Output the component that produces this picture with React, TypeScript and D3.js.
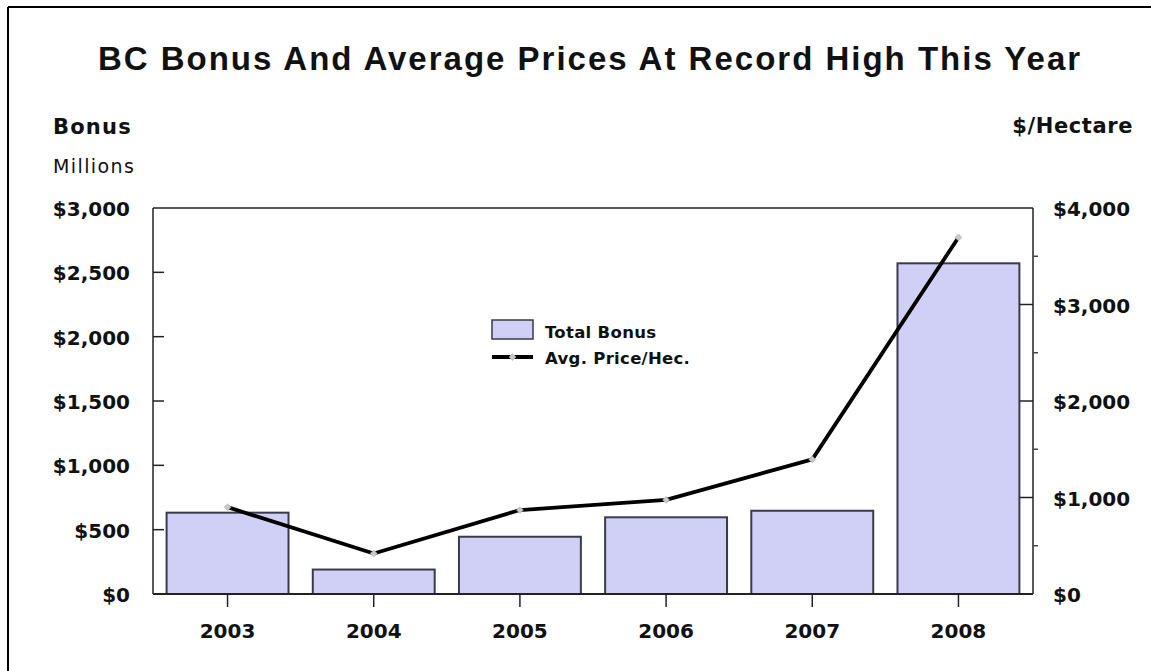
import React from "react";
import * as d3 from "d3";

const years = ["2003", "2004", "2005", "2006", "2007", "2008"];
const bonusMillions = [632, 190, 445, 596, 647, 2570];
const pricePerHectare = [900, 420, 870, 975, 1395, 3695];
const leftTicks = [0, 500, 1000, 1500, 2000, 2500, 3000];
const rightTicks = [0, 1000, 2000, 3000, 4000];
const rightMinorTicks = [500, 1500, 2500, 3500];

const W = 1151;
const H = 671;
const L = 153, R = 1033, T = 208, B = 594;

const labelFont = "'DejaVu Sans', Verdana, sans-serif";
const titleFont = "'Liberation Sans', Arial, sans-serif";

export default function App() {
  const x = d3.scaleBand<string>().domain(years).range([L, R]).paddingInner(0.166).paddingOuter(0.093);
  const yL = d3.scaleLinear().domain([0, 3000]).range([B, T]);
  const yR = d3.scaleLinear().domain([0, 4000]).range([B, T]);
  const fmt = (v: number) => "$" + d3.format(",")(v);
  const line = d3
    .line<number>()
    .x((_, i) => (x(years[i]) as number) + x.bandwidth() / 2)
    .y((d) => yR(d));
  const diamond = (cx: number, cy: number, r: number) =>
    `M${cx},${cy - r}L${cx + r},${cy}L${cx},${cy + r}L${cx - r},${cy}Z`;

  return (
    <svg width={W} height={H} style={{ position: "absolute", left: 0, top: 0, background: "#fff" }}>
      <rect x={0} y={0} width={W} height={H} fill="#fff" />
      {/* frame */}
      <line x1={8} y1={7} x2={W} y2={7} stroke="#000" strokeWidth={2} />
      <line x1={8} y1={7} x2={8} y2={H} stroke="#000" strokeWidth={2} />

      <text x={590} y={70} textAnchor="middle" fontFamily={titleFont} fontWeight="bold" fontSize={33} letterSpacing={2} fill="#111">
        BC Bonus And Average Prices At Record High This Year
      </text>
      <text x={53} y={134} fontFamily={labelFont} fontWeight="bold" fontSize={21} letterSpacing={1.2} fill="#111">Bonus</text>
      <text x={53} y={173} fontFamily={labelFont} fontSize={19} letterSpacing={1.4} fill="#111">Millions</text>
      <text x={1133} y={133} textAnchor="end" fontFamily={labelFont} fontWeight="bold" fontSize={21} letterSpacing={0.6} fill="#111">$/Hectare</text>

      {/* plot background */}
      <rect x={L} y={T} width={R - L} height={B - T} fill="#fff" stroke="none" />

      {/* bars */}
      {bonusMillions.map((v, i) => (
        <rect
          key={years[i]}
          x={x(years[i])}
          y={yL(v)}
          width={x.bandwidth()}
          height={B - yL(v)}
          fill="#d0d0f7"
          stroke="#3a3a4a"
          strokeWidth={2}
        />
      ))}

      <line x1={L} y1={T} x2={R} y2={T} stroke="#222" strokeWidth={1.5} />
      <line x1={L} y1={T} x2={L} y2={B} stroke="#222" strokeWidth={1.5} />
      <line x1={R} y1={T} x2={R} y2={B} stroke="#222" strokeWidth={1.5} />
      <line x1={L} y1={B} x2={R} y2={B} stroke="#222" strokeWidth={2} />

      {/* left ticks */}
      {leftTicks.map((t) => (
        <g key={"l" + t}>
          {t > 0 && t < 3000 && <line x1={L} x2={L + 11} y1={yL(t)} y2={yL(t)} stroke="#222" strokeWidth={1.5} />}
          <text x={130} y={yL(t) + 8} textAnchor="end" fontFamily={labelFont} fontWeight="bold" fontSize={20} fill="#111">
            {fmt(t)}
          </text>
        </g>
      ))}

      {/* right ticks */}
      {rightTicks.map((t) => (
        <g key={"r" + t}>
          {t > 0 && t < 4000 && <line x1={R - 13} x2={R} y1={yR(t)} y2={yR(t)} stroke="#222" strokeWidth={1.5} />}
          <text x={1053} y={yR(t) + 8} fontFamily={labelFont} fontWeight="bold" fontSize={20} fill="#111">
            {fmt(t)}
          </text>
        </g>
      ))}
      {rightMinorTicks.map((t) => (
        <line key={"rm" + t} x1={R} x2={R + 5} y1={yR(t)} y2={yR(t)} stroke="#444" strokeWidth={1.5} />
      ))}

      {/* x ticks and labels */}
      {years.map((yr) => {
        const cx = (x(yr) as number) + x.bandwidth() / 2;
        return (
          <g key={"x" + yr}>
            <line x1={cx} x2={cx} y1={B} y2={B + 13} stroke="#222" strokeWidth={1.5} />
            <text x={cx} y={638} textAnchor="middle" fontFamily={labelFont} fontWeight="bold" fontSize={20} fill="#111">
              {yr}
            </text>
          </g>
        );
      })}

      {/* line series */}
      <path d={line(pricePerHectare) || ""} fill="none" stroke="#000" strokeWidth={3.8} strokeLinejoin="round" />
      {pricePerHectare.map((v, i) => {
        const cx = (x(years[i]) as number) + x.bandwidth() / 2;
        return <path key={"m" + i} d={diamond(cx, yR(v), 3.5)} fill="#c8c8c8" stroke="#aaa" strokeWidth={0.5} />;
      })}

      {/* legend */}
      <rect x={492} y={320} width={41} height={19} fill="#d0d0f7" stroke="#3a3a4a" strokeWidth={1.5} />
      <text x={545} y={338} fontFamily={labelFont} fontWeight="bold" fontSize={16.5} letterSpacing={0.3} fill="#111">Total Bonus</text>
      <line x1={492} x2={533} y1={357} y2={357} stroke="#000" strokeWidth={3.8} />
      <path d={diamond(512.5, 357, 3.5)} fill="#c8c8c8" stroke="#aaa" strokeWidth={0.5} />
      <text x={545} y={364} fontFamily={labelFont} fontWeight="bold" fontSize={16.5} letterSpacing={0.3} fill="#111">Avg. Price/Hec.</text>
    </svg>
  );
}
